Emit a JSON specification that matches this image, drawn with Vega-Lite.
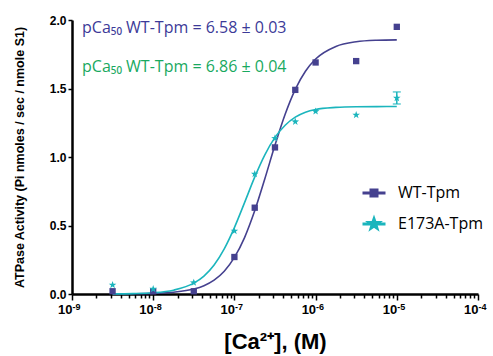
{
  "$schema": "https://vega.github.io/schema/vega-lite/v6.json",
  "width": 406,
  "height": 274,
  "autosize": {"type": "none"},
  "padding": {"left": 72, "top": 20, "right": 15, "bottom": 62},
  "background": "white",
  "config": {
    "view": {"stroke": null},
    "font": "Liberation Sans",
    "axis": {"labelFont": "Liberation Sans", "titleFont": "Liberation Sans", "grid": false},
    "legend": {"labelFont": "Open Sans"}
  },
  "datasets": {
    "obs": [
      {"series": "WT-Tpm", "conc": 3.16e-9, "atp": 0.02},
      {"series": "WT-Tpm", "conc": 1e-8, "atp": 0.02},
      {"series": "WT-Tpm", "conc": 3.16e-8, "atp": 0.02},
      {"series": "WT-Tpm", "conc": 1e-7, "atp": 0.27},
      {"series": "WT-Tpm", "conc": 1.78e-7, "atp": 0.63},
      {"series": "WT-Tpm", "conc": 3.16e-7, "atp": 1.07},
      {"series": "WT-Tpm", "conc": 5.62e-7, "atp": 1.49},
      {"series": "WT-Tpm", "conc": 1e-6, "atp": 1.69},
      {"series": "WT-Tpm", "conc": 3.16e-6, "atp": 1.7},
      {"series": "WT-Tpm", "conc": 1e-5, "atp": 1.95},
      {"series": "E173A-Tpm", "conc": 3.16e-9, "atp": 0.066},
      {"series": "E173A-Tpm", "conc": 1e-8, "atp": 0.036},
      {"series": "E173A-Tpm", "conc": 3.16e-8, "atp": 0.083},
      {"series": "E173A-Tpm", "conc": 1e-7, "atp": 0.46},
      {"series": "E173A-Tpm", "conc": 1.78e-7, "atp": 0.876},
      {"series": "E173A-Tpm", "conc": 3.16e-7, "atp": 1.136},
      {"series": "E173A-Tpm", "conc": 5.62e-7, "atp": 1.258},
      {"series": "E173A-Tpm", "conc": 1e-6, "atp": 1.333},
      {"series": "E173A-Tpm", "conc": 3.16e-6, "atp": 1.307},
      {"series": "E173A-Tpm", "conc": 1e-5, "atp": 1.43}
    ],
    "fit": [
      {"series": "WT-Tpm", "conc": 3.162e-9, "atp": 0.0005},
      {"series": "WT-Tpm", "conc": 5.623e-9, "atp": 0.0015},
      {"series": "WT-Tpm", "conc": 1e-8, "atp": 0.0044},
      {"series": "WT-Tpm", "conc": 1.778e-8, "atp": 0.0127},
      {"series": "WT-Tpm", "conc": 3.162e-8, "atp": 0.036},
      {"series": "WT-Tpm", "conc": 4.217e-8, "atp": 0.061},
      {"series": "WT-Tpm", "conc": 5.623e-8, "atp": 0.101},
      {"series": "WT-Tpm", "conc": 7.499e-8, "atp": 0.166},
      {"series": "WT-Tpm", "conc": 1e-7, "atp": 0.267},
      {"series": "WT-Tpm", "conc": 1.334e-7, "atp": 0.412},
      {"series": "WT-Tpm", "conc": 1.778e-7, "atp": 0.607},
      {"series": "WT-Tpm", "conc": 2.371e-7, "atp": 0.841},
      {"series": "WT-Tpm", "conc": 3.162e-7, "atp": 1.087},
      {"series": "WT-Tpm", "conc": 4.217e-7, "atp": 1.312},
      {"series": "WT-Tpm", "conc": 5.623e-7, "atp": 1.494},
      {"series": "WT-Tpm", "conc": 7.499e-7, "atp": 1.626},
      {"series": "WT-Tpm", "conc": 1e-6, "atp": 1.715},
      {"series": "WT-Tpm", "conc": 1.778e-6, "atp": 1.807},
      {"series": "WT-Tpm", "conc": 3.162e-6, "atp": 1.841},
      {"series": "WT-Tpm", "conc": 5.623e-6, "atp": 1.852},
      {"series": "WT-Tpm", "conc": 1e-5, "atp": 1.855},
      {"series": "E173A-Tpm", "conc": 3.162e-9, "atp": 0.001},
      {"series": "E173A-Tpm", "conc": 5.623e-9, "atp": 0.003},
      {"series": "E173A-Tpm", "conc": 1e-8, "atp": 0.009},
      {"series": "E173A-Tpm", "conc": 1.778e-8, "atp": 0.028},
      {"series": "E173A-Tpm", "conc": 3.162e-8, "atp": 0.079},
      {"series": "E173A-Tpm", "conc": 4.217e-8, "atp": 0.131},
      {"series": "E173A-Tpm", "conc": 5.623e-8, "atp": 0.212},
      {"series": "E173A-Tpm", "conc": 7.499e-8, "atp": 0.33},
      {"series": "E173A-Tpm", "conc": 1e-7, "atp": 0.485},
      {"series": "E173A-Tpm", "conc": 1.334e-7, "atp": 0.667},
      {"series": "E173A-Tpm", "conc": 1.778e-7, "atp": 0.853},
      {"series": "E173A-Tpm", "conc": 2.371e-7, "atp": 1.016},
      {"series": "E173A-Tpm", "conc": 3.162e-7, "atp": 1.143},
      {"series": "E173A-Tpm", "conc": 4.217e-7, "atp": 1.232},
      {"series": "E173A-Tpm", "conc": 5.623e-7, "atp": 1.291},
      {"series": "E173A-Tpm", "conc": 7.499e-7, "atp": 1.327},
      {"series": "E173A-Tpm", "conc": 1e-6, "atp": 1.347},
      {"series": "E173A-Tpm", "conc": 1.778e-6, "atp": 1.362},
      {"series": "E173A-Tpm", "conc": 3.162e-6, "atp": 1.367},
      {"series": "E173A-Tpm", "conc": 5.623e-6, "atp": 1.368},
      {"series": "E173A-Tpm", "conc": 1e-5, "atp": 1.369}
    ],
    "err": [
      {"series": "E173A-Tpm", "conc": 1e-5, "atp": 1.387, "hi": 1.475}
    ],
    "notes": [
      {"note": "wt", "label": "pCa₅₀ WT-Tpm = 6.58 ± 0.03", "conc": 1.33e-9, "atp": 1.905},
      {"note": "mut", "label": "pCa₅₀ WT-Tpm = 6.86 ± 0.04", "conc": 1.33e-9, "atp": 1.623}
    ]
  },
  "resolve": {"axis": {"x": "independent"}},
  "encoding": {
    "y": {
      "field": "atp", "type": "quantitative",
      "scale": {"domain": [0, 2], "nice": false, "zero": true},
      "axis": {
        "values": [0, 0.5, 1, 1.5, 2],
        "format": ".1f",
        "labelFontSize": 12,
        "labelFontWeight": "bold",
        "labelColor": "black",
        "labelPadding": 2,
        "tickSize": 4,
        "tickWidth": 1.5,
        "tickColor": "black",
        "domainColor": "black",
        "domainWidth": 2.5,
        "title": "ATPase Activity (Pi nmoles / sec / nmole S1)",
        "titleFontSize": 12.5,
        "titleFontWeight": "bold",
        "titleColor": "black",
        "titleX": -53,
        "titleY": 137,
        "titleAngle": -90,
        "titleAlign": "center",
        "titleBaseline": "middle"
      }
    }
  },
  "layer": [
    {
      "data": {"name": "fit"},
      "transform": [{"filter": "datum.series === 'WT-Tpm'"}],
      "mark": {"type": "line", "strokeWidth": 1.6, "interpolate": "monotone", "color": "#45418f"},
      "encoding": {
        "x": {
          "field": "conc", "type": "quantitative",
          "scale": {"type": "log", "domain": [1e-9, 1e-4], "nice": false},
          "axis": {
            "orient": "bottom",
            "values": [1e-9, 2e-9, 3e-9, 4e-9, 5e-9, 6e-9, 7e-9, 8e-9, 9e-9, 1e-8, 2e-8, 3e-8, 4e-8, 5e-8, 6e-8, 7e-8, 8e-8, 9e-8, 1e-7, 2e-7, 3e-7, 4e-7, 5e-7, 6e-7, 7e-7, 8e-7, 9e-7, 1e-6, 2e-6, 3e-6, 4e-6, 5e-6, 6e-6, 7e-6, 8e-6, 9e-6, 1e-5, 2e-5, 3e-5, 4e-5, 5e-5, 6e-5, 7e-5, 8e-5, 9e-5, 1e-4],
            "labelExpr": "abs(log(datum.value)/LN10 - round(log(datum.value)/LN10)) < 0.01 ? '10' : ''",
            "labelOverlap": false,
            "labelFlush": false,
            "labelFontSize": 13,
            "labelFontWeight": "bold",
            "labelColor": "black",
            "labelAlign": "right",
            "labelPadding": 3,
            "labelDx": 1,
            "tickSize": {"condition": {"test": "abs(log(datum.value)/LN10 - round(log(datum.value)/LN10)) < 0.01", "value": 6}, "value": 4},
            "tickWidth": 1.5,
            "tickColor": "black",
            "domainColor": "black",
            "domainWidth": 2.5,
            "title": "[Ca²⁺], (M)",
            "titleFontSize": 22,
            "titleFontWeight": "bold",
            "titleColor": "black",
            "titleX": 203,
            "titleY": 54,
            "titleAlign": "center",
            "titleBaseline": "alphabetic"
          }
        }
      }
    },
    {
      "data": {"name": "fit"},
      "transform": [{"filter": "datum.series === 'E173A-Tpm'"}],
      "mark": {"type": "line", "strokeWidth": 1.6, "interpolate": "monotone", "color": "#1bb5bd"},
      "encoding": {
        "x": {
          "field": "conc", "type": "quantitative",
          "axis": {
            "orient": "bottom",
            "values": [1e-9, 1e-8, 1e-7, 1e-6, 1e-5, 1e-4],
            "labelExpr": "'-' + format(-round(log(datum.value)/LN10), 'd')",
            "labelOverlap": false,
            "labelFlush": false,
            "labelFontSize": 9,
            "labelFontWeight": "bold",
            "labelColor": "black",
            "labelAlign": "left",
            "labelPadding": 8,
            "labelDx": 3,
            "ticks": false,
            "domain": false,
            "title": null
          }
        }
      }
    },
    {
      "data": {"name": "obs"},
      "transform": [{"filter": "datum.series === 'WT-Tpm'"}],
      "mark": {"type": "point", "shape": "square", "filled": true, "size": 40, "opacity": 1, "color": "#45418f"},
      "encoding": {
        "x": {"field": "conc", "type": "quantitative", "axis": null}
      }
    },
    {
      "data": {"name": "obs"},
      "transform": [{"filter": "datum.series === 'E173A-Tpm'"}],
      "mark": {"type": "point", "shape": "M0,-1L0.235,-0.324L0.951,-0.309L0.38,0.124L0.588,0.809L0,0.4L-0.588,0.809L-0.38,0.124L-0.951,-0.309L-0.235,-0.324Z", "filled": true, "size": 64, "opacity": 1, "color": "#1bb5bd"},
      "encoding": {
        "x": {"field": "conc", "type": "quantitative", "axis": null}
      }
    },
    {
      "data": {"name": "err"},
      "mark": {"type": "errorbar", "ticks": {"size": 8}, "thickness": 1.5, "color": "#1bb5bd"},
      "encoding": {
        "x": {"field": "conc", "type": "quantitative", "axis": null},
        "y2": {"field": "hi"}
      }
    },
    {
      "data": {"name": "notes"},
      "transform": [{"filter": "datum.note === 'wt'"}],
      "mark": {"type": "text", "align": "left", "baseline": "alphabetic", "font": "Open Sans", "fontSize": 16, "color": "#3c3a98"},
      "encoding": {
        "x": {"field": "conc", "type": "quantitative", "axis": null},
        "text": {"field": "label"}
      }
    },
    {
      "data": {"name": "notes"},
      "transform": [{"filter": "datum.note === 'mut'"}],
      "mark": {"type": "text", "align": "left", "baseline": "alphabetic", "font": "Open Sans", "fontSize": 16, "color": "#19a95f"},
      "encoding": {
        "x": {"field": "conc", "type": "quantitative", "axis": null},
        "text": {"field": "label"}
      }
    },
    {
      "data": {"name": "obs"},
      "mark": {"type": "point", "filled": true, "opacity": 0, "size": 1},
      "encoding": {
        "x": {"field": "conc", "type": "quantitative", "axis": null},
        "shape": {
          "field": "series", "type": "nominal",
          "scale": {"domain": ["WT-Tpm", "E173A-Tpm"], "range": ["M-1,0L1,0M-0.27,-0.27L0.27,-0.27L0.27,0.27L-0.27,0.27Z", "M-1,0L1,0M0,-0.45L0.106,-0.146L0.428,-0.139L0.171,0.056L0.265,0.364L0,0.18L-0.265,0.364L-0.171,0.056L-0.428,-0.139L-0.106,-0.146Z"]},
          "legend": {
            "orient": "none",
            "legendX": 289,
            "legendY": 160,
            "title": null,
            "labelFontSize": 16,
            "labelFont": "Open Sans",
            "labelColor": "black",
            "symbolSize": 529,
            "symbolStrokeWidth": 2.8,
            "symbolOpacity": 1,
            "rowPadding": 9,
            "labelOffset": 11,
            "padding": 0
          }
        },
        "fill": {
          "field": "series", "type": "nominal",
          "scale": {"domain": ["WT-Tpm", "E173A-Tpm"], "range": ["#45418f", "#1bb5bd"]}
        },
        "stroke": {
          "field": "series", "type": "nominal",
          "scale": {"domain": ["WT-Tpm", "E173A-Tpm"], "range": ["#45418f", "#1bb5bd"]}
        }
      }
    }
  ]
}
